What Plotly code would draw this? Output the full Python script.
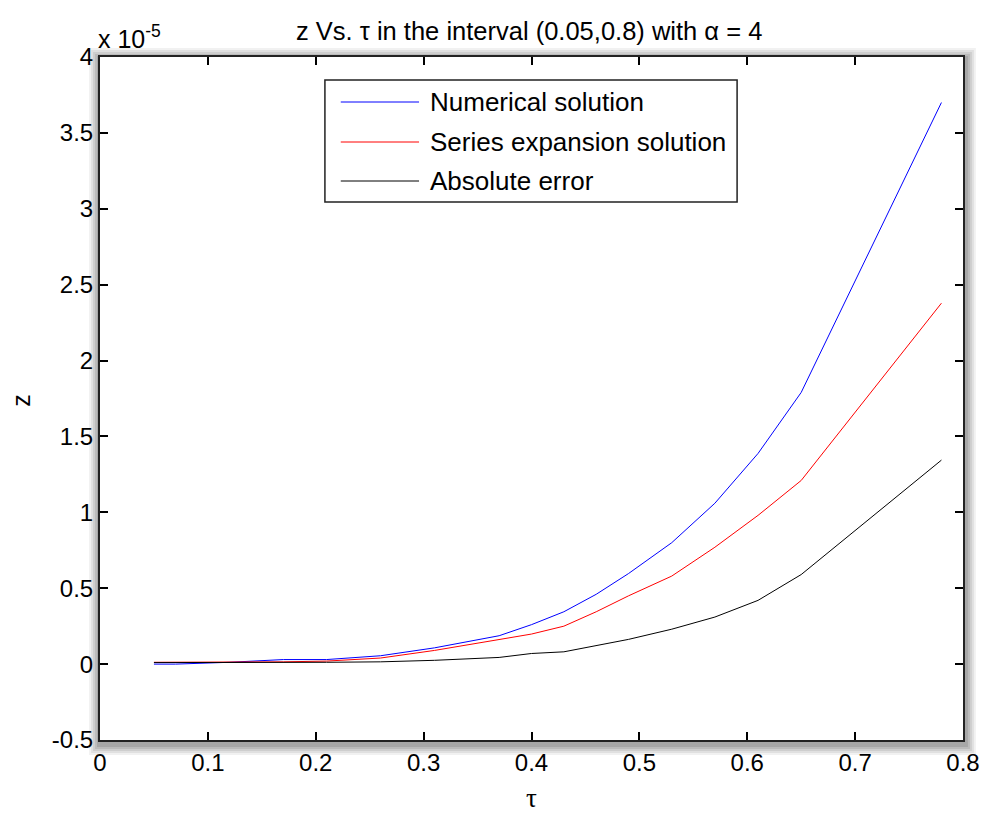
import plotly.graph_objects as go

# Datos (z en unidades de 1e-5)
tau = [0.05, 0.07, 0.12, 0.17, 0.21, 0.26, 0.31, 0.37, 0.40, 0.43,
       0.46, 0.49, 0.53, 0.57, 0.61, 0.65, 0.78]
z_numerical = [0.0, 0.0, 0.012, 0.03, 0.03, 0.055, 0.107, 0.187, 0.26, 0.345,
               0.46, 0.597, 0.80, 1.06, 1.388, 1.79, 3.70]
z_series = [0.012, 0.012, 0.012, 0.015, 0.02, 0.04, 0.09, 0.16, 0.198, 0.25,
            0.345, 0.45, 0.58, 0.77, 0.98, 1.21, 2.378]
z_error = [0.01, 0.01, 0.01, 0.01, 0.012, 0.015, 0.025, 0.044, 0.07, 0.081,
           0.12, 0.163, 0.23, 0.31, 0.42, 0.59, 1.344]

series_names = ['Numerical solution', 'Series expansion solution', 'Absolute error']
series_colors = ['#0000ff', '#ff0000', '#000000']

x_ticks = [0, 0.1, 0.2, 0.3, 0.4, 0.5, 0.6, 0.7, 0.8]
x_ticktext = ['0', '0.1', '0.2', '0.3', '0.4', '0.5', '0.6', '0.7', '0.8']
y_ticks = [-0.5, 0, 0.5, 1, 1.5, 2, 2.5, 3, 3.5, 4]
y_ticktext = ['-0.5', '0', '0.5', '1', '1.5', '2', '2.5', '3', '3.5', '4']

FONT = 'Liberation Sans, Arial, sans-serif'
W, H = 992, 813
L, R, T, B = 100, 21, 57, 73
PW, PH = W - L - R, H - T - B


# Conversión de píxeles de la imagen a coordenadas "paper" (área de trazado)
def px_x(p):
    return (p - L) / PW


def px_y(p):
    return (H - B - p) / PH


fig = go.Figure()
for ys, name, color in zip([z_numerical, z_series, z_error], series_names, series_colors):
    fig.add_trace(go.Scatter(x=tau, y=ys, mode='lines', name=name,
                             line=dict(color=color, width=1), showlegend=False))

# Sombra alrededor de los ejes (efecto de la imagen original)
shapes = []
for i, op in enumerate([0.08, 0.10, 0.12, 0.15, 0.18]):
    g = 12 - 2 * i
    shapes.append(dict(type='rect', xref='paper', yref='paper', layer='below',
                       x0=px_x(L - g + 1), x1=px_x(W - R + g + 1),
                       y0=px_y(H - B + g + 3), y1=px_y(T - g + 3),
                       fillcolor='#505050', opacity=op, line=dict(width=0)))
shapes.append(dict(type='rect', xref='paper', yref='paper', layer='below',
                   x0=0, x1=1, y0=0, y1=1,
                   fillcolor='white', line=dict(width=0)))

# Leyenda dibujada a mano (caja estilo MATLAB)
lx0, lx1, ly0, ly1 = 327, 743, 80, 202
shapes.append(dict(type='rect', xref='paper', yref='paper',
                   x0=px_x(lx0), x1=px_x(lx1), y0=px_y(ly1), y1=px_y(ly0),
                   fillcolor='white', line=dict(color='#222222', width=1.5)))
rows = [102, 142, 181]
annotations = []
for yr, name, color in zip(rows, series_names, series_colors):
    shapes.append(dict(type='line', xref='paper', yref='paper',
                       x0=px_x(343), x1=px_x(422), y0=px_y(yr), y1=px_y(yr),
                       line=dict(color=color, width=1)))
    annotations.append(dict(xref='paper', yref='paper', x=px_x(431), y=px_y(yr),
                            xanchor='left', yanchor='middle', showarrow=False,
                            text=name, font=dict(family=FONT, size=26, color='black')))

title_text = 'z Vs. τ in the interval (0.05,0.8) with α = 4'
annotations.append(dict(xref='paper', yref='paper', x=px_x(533), y=px_y(31),
                        xanchor='center', yanchor='middle', showarrow=False,
                        text=title_text,
                        font=dict(family=FONT, size=25.5, color='black')))
annotations.append(dict(xref='paper', yref='paper', x=px_x(96), y=px_y(37),
                        xanchor='left', yanchor='middle', showarrow=False,
                        text='x 10<sup>-5</sup>',
                        font=dict(family=FONT, size=25, color='black')))
annotations.append(dict(xref='paper', yref='paper', x=px_x(20), y=px_y(400),
                        xanchor='center', yanchor='middle', showarrow=False,
                        text='z', textangle=-90,
                        font=dict(family=FONT, size=25, color='black')))
annotations.append(dict(xref='paper', yref='paper', x=px_x(535), y=px_y(798),
                        xanchor='center', yanchor='middle', showarrow=False,
                        text='τ',
                        font=dict(family='Liberation Serif, serif', size=27, color='black')))

axis_common = dict(showline=True, linecolor='#222222', linewidth=2, mirror='ticks',
                   ticks='inside', ticklen=8, tickwidth=1.5, tickcolor='black',
                   showgrid=False, zeroline=False,
                   tickfont=dict(family=FONT, size=24, color='black'))

fig.update_layout(
    width=W, height=H,
    margin=dict(l=L, r=R, t=T, b=B),
    paper_bgcolor='white', plot_bgcolor='white',
    xaxis=dict(range=[0, 0.8], tickvals=x_ticks, ticktext=x_ticktext, **axis_common),
    yaxis=dict(range=[-0.5, 4], tickvals=y_ticks, ticktext=y_ticktext, **axis_common),
    shapes=shapes, annotations=annotations,
)

fig.write_html('out.html', config={'displayModeBar': False},
               post_script="document.body.style.margin='0';")
